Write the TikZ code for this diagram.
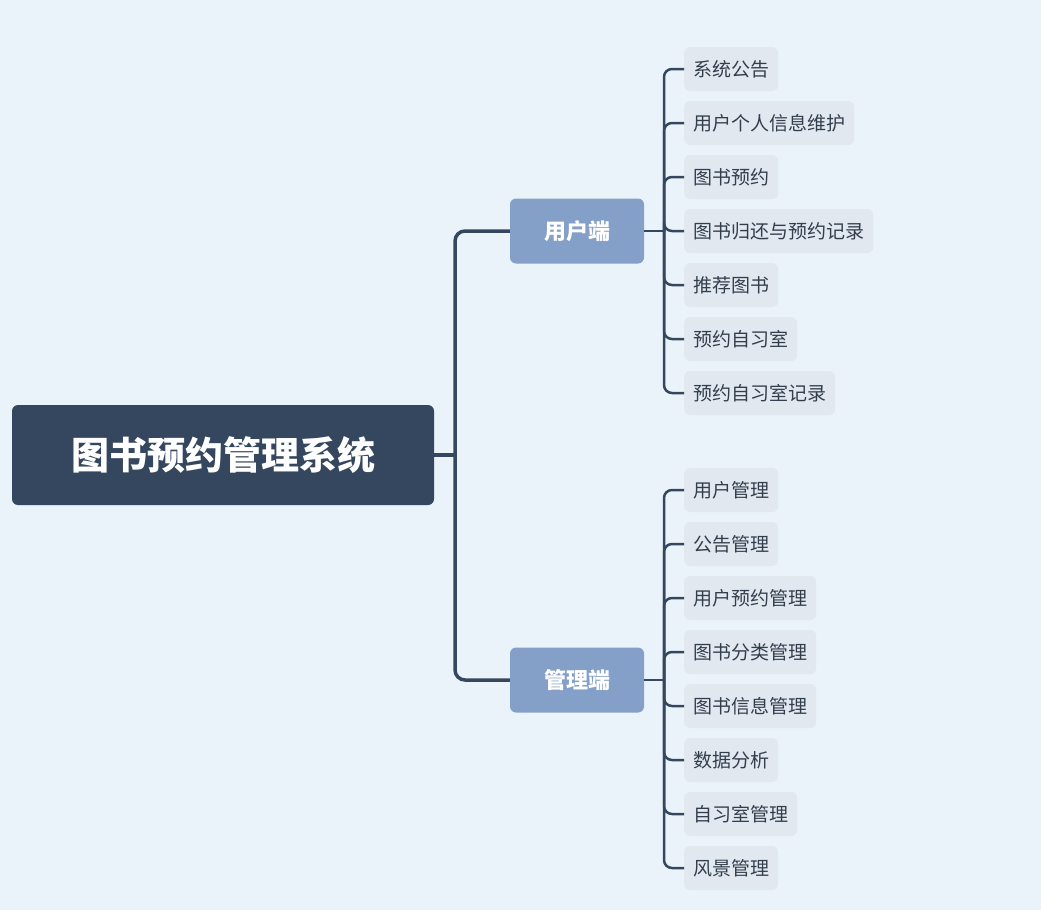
\documentclass[tikz,border=0pt]{standalone}
\usepackage{fontspec}
\setmainfont{Noto Sans CJK SC}
\definecolor{bg}{HTML}{EBF3FA}
\definecolor{dark}{HTML}{35475E}
\definecolor{mid}{HTML}{84A0C8}
\definecolor{leaf}{HTML}{E1E8F0}
\definecolor{txt}{HTML}{333E4D}
\begin{document}
\begin{tikzpicture}[x=1pt,y=-1pt,
  rootbox/.style={fill=dark,rounded corners=6pt,text=white,font=\fontsize{38}{44}\selectfont\bfseries,minimum width=422pt,minimum height=100pt},
  midbox/.style={fill=mid,rounded corners=6pt,text=white,font=\fontsize{22}{26}\selectfont\bfseries,minimum width=134pt,minimum height=65pt},
  leafbox/.style={fill=leaf,rounded corners=6pt,text=txt,font=\fontsize{19}{22}\selectfont,inner xsep=9pt,minimum height=44pt,anchor=west},
  conn/.style={draw=dark,line width=3.5pt,rounded corners=10pt},
  lconn/.style={draw=dark,line width=2.5pt,rounded corners=8pt}]
\fill[bg] (0,0) rectangle (1041,910);
\useasboundingbox (0,0) rectangle (1041,910);
\node[rootbox] (root) at (223,455) {图书预约管理系统};
\node[midbox] (u) at (577,231) {用户端};
\node[midbox] (a) at (577,680) {管理端};
\coordinate (j) at (455,455);
\draw[conn] (root.east) -- (j);
\draw[conn] (u.west) -| (j);
\draw[conn] (a.west) -| (j);
\coordinate (b1) at (664,231);
\coordinate (b2) at (664,680);
\draw[lconn] (u.east) -- (b1);
\draw[lconn] (a.east) -- (b2);
\foreach \t [count=\i] in {系统公告,用户个人信息维护,图书预约,图书归还与预约记录,推荐图书,预约自习室,预约自习室记录}{
  \node[leafbox] (u\i) at (684,{15+54*\i}) {\t};
  \draw[lconn] (u\i.west) -| (b1);
}
\foreach \t [count=\i] in {用户管理,公告管理,用户预约管理,图书分类管理,图书信息管理,数据分析,自习室管理,风景管理}{
  \node[leafbox] (a\i) at (684,{436+54*\i}) {\t};
  \draw[lconn] (a\i.west) -| (b2);
}
\end{tikzpicture}
\end{document}
